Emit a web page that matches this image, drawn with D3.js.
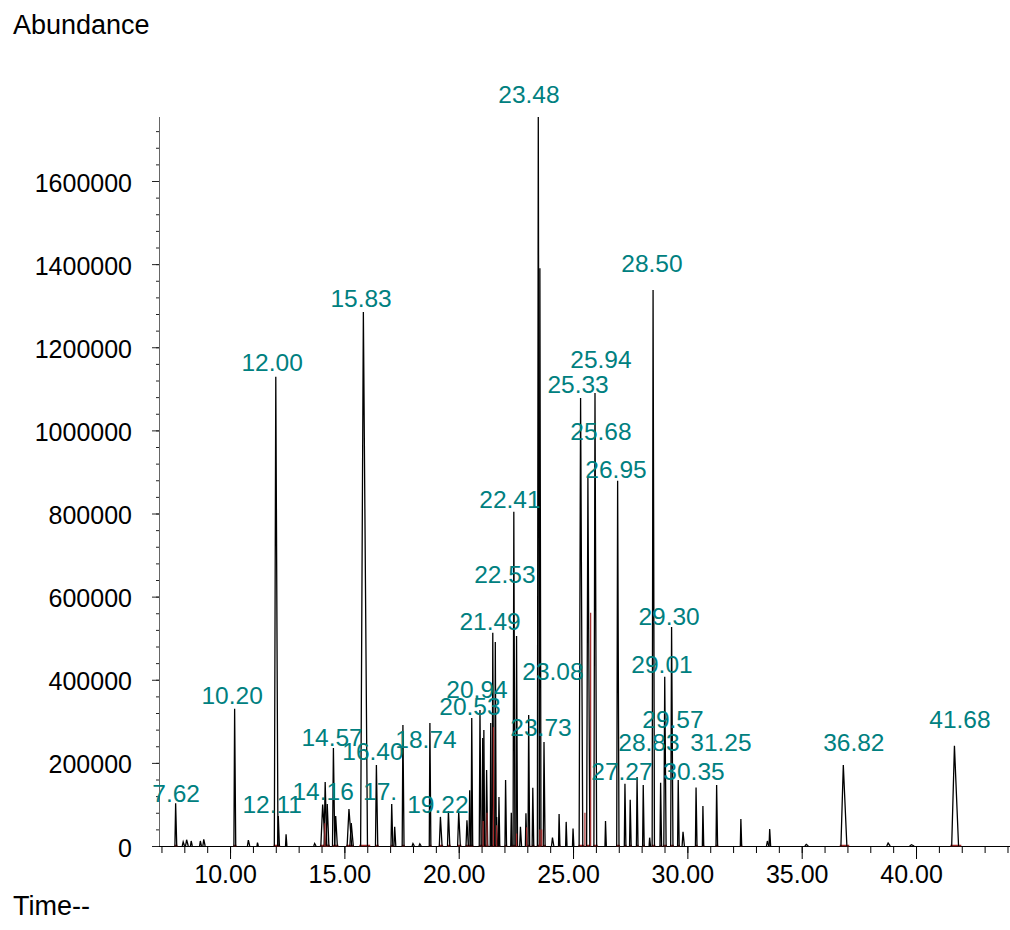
<!DOCTYPE html>
<html>
<head>
<meta charset="utf-8">
<script src="https://cdn.jsdelivr.net/npm/d3@7"></script>
<style>
  body { margin: 0; background: #fff; }
  svg { display: block; font-family: "Liberation Sans", Arial, sans-serif; }
</style>
</head>
<body>
<svg id="chart" width="1010" height="930"></svg>
<script>
// peaks of the trace: retention time (min), abundance, base width (min)
const peakTimes = [7.62, 7.95, 8.1, 8.3, 8.7, 8.85, 10.20, 10.8, 11.2, 12.00, 12.11, 12.45, 13.7,
    14.05, 14.16, 14.25, 14.52, 14.62, 15.2, 15.3, 15.83, 16.40, 17.07, 17.2, 17.56, 18.0, 18.3,
    18.74, 19.2, 19.55, 20.0, 20.36, 20.48, 20.57, 20.93, 21.05, 21.1, 21.22, 21.4, 21.49, 21.6,
    21.66, 21.76, 22.05, 22.3, 22.41, 22.53, 22.7, 22.94, 23.06, 23.24, 23.48, 23.55, 23.73, 24.1,
    24.39, 24.7, 25.0, 25.33, 25.65, 25.96, 26.42, 26.95, 27.27, 27.5, 27.8, 28.07, 28.35, 28.50,
    28.83, 29.01, 29.31, 29.6, 29.81, 30.38, 30.68, 31.28, 32.34, 33.5, 33.6, 35.2, 36.82, 38.78,
    39.8, 41.68];
const peakHeights = [103000, 10000, 15000, 12000, 12000, 16000, 330000, 14000, 8000, 1129000, 72000, 28000, 6000,
    100000, 154000, 101000, 236000, 72000, 89000, 55000, 1285000, 195000, 101000, 46000, 291000, 6000, 5000,
    296000, 70000, 84000, 82000, 62000, 134000, 308000, 327000, 260000, 279000, 183000, 296000, 513000, 491000,
    70000, 118000, 159000, 80000, 804000, 505000, 46000, 79000, 315000, 140000, 1754000, 1390000, 250000, 20000,
    77000, 58000, 42000, 1078000, 888000, 1090000, 60000, 879000, 150000, 111000, 166000, 147000, 20000, 1338000,
    152000, 407000, 527000, 159000, 34000, 141000, 96000, 147000, 65000, 12000, 41000, 4000, 195000, 7000,
    3000, 241000];
const peakWidths = [0.08, 0.1, 0.12, 0.08, 0.08, 0.1, 0.08, 0.1, 0.06, 0.16, 0.08, 0.06, 0.1,
    0.2, 0.12, 0.12, 0.1, 0.12, 0.2, 0.15, 0.3, 0.1, 0.08, 0.08, 0.08, 0.1, 0.1,
    0.07, 0.12, 0.1, 0.12, 0.1, 0.08, 0.07, 0.08, 0.08, 0.06, 0.08, 0.06, 0.07, 0.07,
    0.06, 0.06, 0.07, 0.06, 0.08, 0.07, 0.08, 0.06, 0.07, 0.07, 0.1, 0.08, 0.08, 0.1,
    0.06, 0.06, 0.06, 0.16, 0.14, 0.12, 0.06, 0.1, 0.07, 0.07, 0.07, 0.07, 0.06, 0.1,
    0.07, 0.1, 0.1, 0.07, 0.1, 0.07, 0.06, 0.07, 0.06, 0.1, 0.07, 0.15, 0.26, 0.15,
    0.2, 0.3];

// integration drop lines (red)
const dropTimes = [14.15, 21.07, 21.24, 21.52, 21.66, 22.53, 22.97, 23.55, 23.63, 25.52, 25.77];
const dropHeights = [55000, 60000, 80000, 286000, 50000, 30000, 45000, 40000, 40000, 80000, 561000];

// peak labels: text, centre time, centre abundance
const labelTexts = ['7.62', '10.20', '12.00', '12.11', '14.16', '14.57', '15.83', '16.40', '17.',
    '18.74', '19.22', '20.53', '20.94', '21.49', '22.53', '22.41', '23.48', '23.08', '23.73',
    '25.33', '25.94', '25.68', '26.95', '28.50', '29.30', '29.01', '29.57', '28.83', '31.25',
    '27.27', '30.35', '36.82', '41.68'];
const labelTimes = [7.64, 10.09, 11.84, 11.84, 14.07, 14.46, 15.73, 16.25, 16.56,
    18.57, 19.09, 20.49, 20.80, 21.37, 22.02, 22.24, 23.07, 24.12, 23.60,
    25.22, 26.22, 26.22, 26.88, 28.45, 29.20, 28.89, 29.37, 28.32, 31.47,
    27.14, 30.29, 37.28, 41.92];
const labelLevels = [128000, 363000, 1163000, 101000, 132000, 262000, 1319000, 229000, 132000,
    258000, 101000, 337000, 378000, 542000, 655000, 835000, 1808000, 421000, 286000,
    1110000, 1172000, 999000, 907000, 1403000, 554000, 438000, 306000, 250000, 250000,
    181000, 181000, 250000, 306000];

const xMajor = [10, 15, 20, 25, 30, 35, 40];
const xMinor = d3.range(7, 45);
const yMajor = [0, 200000, 400000, 600000, 800000, 1000000, 1200000, 1400000, 1600000];
const yMinor = d3.range(0, 1754000, 40000);

const svg = d3.select('#chart');

const x = d3.scaleLinear().domain([6.63, 44.11]).range([153, 1010]);
const y = d3.scaleLinear().domain([0, 1754000]).range([846, 117]);
const yAxisX = 159;

// x axis
const xAxisG = svg.append('g').attr('transform', 'translate(0,846)');
xAxisG.call(d3.axisBottom(x).tickValues(xMinor).tickSize(7).tickFormat(''))
    .call(g => g.select('.domain').remove());
xAxisG.append('g')
    .call(d3.axisBottom(x).tickValues(xMajor).tickSize(13).tickPadding(6)
        .tickFormat(d3.format('.2f')))
    .call(g => g.select('.domain').attr('d', 'M153,0.5H1010'))
    .selectAll('text').attr('dx', -5).attr('font-size', 25).attr('font-family', null).attr('fill', '#000');
xAxisG.selectAll('line').attr('stroke', '#000');

// y axis
const yAxisG = svg.append('g').attr('transform', `translate(${yAxisX},0)`);
yAxisG.call(d3.axisLeft(y).tickValues(yMinor).tickSize(3).tickFormat(''))
    .call(g => g.select('.domain').remove());
yAxisG.append('g')
    .call(d3.axisLeft(y).tickValues(yMajor).tickSize(7).tickPadding(20)
        .tickFormat(d3.format('d')))
    .call(g => g.select('.domain').attr('d', `M0.5,${y.range()[1]}V${y.range()[0]}`)
        .attr('stroke', '#666'))
    .selectAll('text').attr('dy', '0.4em').attr('font-size', 25).attr('font-family', null).attr('fill', '#000');
yAxisG.selectAll('.tick line').attr('stroke', '#222');

// integration baselines under larger peaks
const peaks = peakTimes.map((t, i) => ({ t, h: peakHeights[i], w: peakWidths[i] }));
svg.append('g').attr('stroke', '#a52a2a').attr('stroke-width', 1.5)
    .selectAll('line')
    .data(peaks.filter(p => p.h > 60000))
    .join('line')
    .attr('x1', p => x(p.t - p.w * 0.6))
    .attr('x2', p => x(p.t + p.w * 1.0))
    .attr('y1', y(0) - 0.5)
    .attr('y2', y(0) - 0.5);

// trace
const line = d3.line().x(d => x(d[0])).y(d => y(d[1]));
svg.append('g').attr('fill', 'none').attr('stroke', '#000').attr('stroke-width', 1.3)
    .selectAll('path')
    .data(peaks)
    .join('path')
    .attr('d', p => line([[p.t - p.w * 0.4, 0], [p.t, p.h], [p.t + p.w * 0.6, 0]]));

// drop lines
svg.append('g').attr('stroke', '#a52a2a').attr('stroke-width', 1.2)
    .selectAll('line')
    .data(dropTimes)
    .join('line')
    .attr('x1', d => x(d)).attr('x2', d => x(d))
    .attr('y1', y(0))
    .attr('y2', (d, i) => y(dropHeights[i]));

// labels
svg.append('g').attr('fill', '#008080').attr('font-size', 24.5).attr('text-anchor', 'middle')
    .selectAll('text')
    .data(labelTexts)
    .join('text')
    .attr('x', (d, i) => x(labelTimes[i]))
    .attr('y', (d, i) => y(labelLevels[i]))
    .attr('dy', '0.36em')
    .text(d => d);

// axis titles
svg.append('text').attr('x', 13).attr('y', 34).attr('font-size', 27).text('Abundance');
svg.append('text').attr('x', 13).attr('y', 915).attr('font-size', 27).text('Time--');
</script>
</body>
</html>
